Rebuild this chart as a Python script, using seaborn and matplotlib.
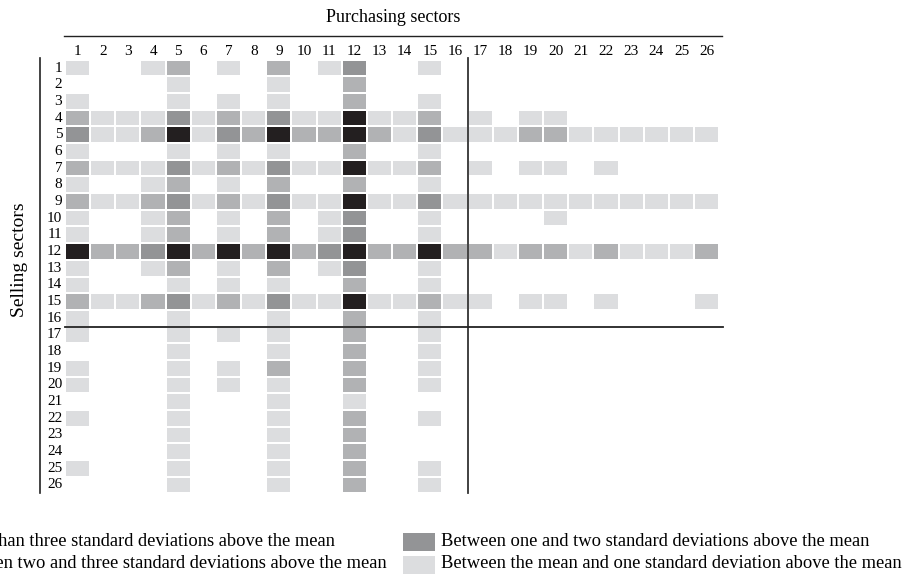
import numpy as np
import matplotlib
matplotlib.use("Agg")
import matplotlib.pyplot as plt
from matplotlib.colors import ListedColormap
from matplotlib.patches import Rectangle
from matplotlib.lines import Line2D
import seaborn as sns

# purchasing (columns) and selling (rows) sector numbers
purchasing = [str(i) for i in range(1, 27)]
selling = [str(i) for i in range(1, 27)]

# 0 = blank, 1 = mean..1 sd, 2 / 3 = higher bands, 4 = more than three sd
rows = [
    "10012010201300100000000000",
    "00001000100200000000000000",
    "10001010100200100000000000",
    "21113121311411201011000000",
    "31124132422421311122111111",
    "10001010100200100000000000",
    "21113121311411201011010000",
    "10012010200200100000000000",
    "21123121311411311111111111",
    "10012010201300100001000000",
    "10012010201300100000000000",
    "42234242423422422122121112",
    "10012010201300100000000000",
    "10001010100200100000000000",
    "21123121311411211011010001",
    "10001000100200100000000000",
    "10001010100200100000000000",
    "00001000100200100000000000",
    "10001010200200100000000000",
    "10001010100200100000000000",
    "00001000100100000000000000",
    "10001000100200100000000000",
    "00001000100200000000000000",
    "00001000100200000000000000",
    "10001000100200100000000000",
    "00001000100200100000000000",
]
levels = np.array([[int(c) for c in r] for r in rows])

shades = ["#ffffff", "#dcdddf", "#b1b2b4", "#939496", "#231f20"]
legend_left = ["More than three standard deviations above the mean",
               "Between two and three standard deviations above the mean"]
legend_right = ["Between one and two standard deviations above the mean",
                "Between the mean and one standard deviation above the mean"]

W, H = 903, 576
plt.rcParams["font.family"] = ["Liberation Serif", "DejaVu Serif"]

fig = plt.figure(figsize=(W / 100, H / 100), dpi=100)
ax = fig.add_axes([65 / W, 1 - 493.3 / H, 654.3 / W, 433.6 / H])

sns.heatmap(levels, ax=ax, cmap=ListedColormap(shades), vmin=-0.5, vmax=4.5,
            cbar=False, linewidths=1.2, linecolor="white",
            xticklabels=purchasing, yticklabels=selling)

ax.xaxis.tick_top()
ax.tick_params(axis="x", length=0, pad=1.5, labelsize=11)
ax.tick_params(axis="y", length=0, pad=2, labelsize=11, rotation=0)
for lab in ax.get_yticklabels():
    lab.set_horizontalalignment("right")

# block separators
ax.axvline(16, ymin=0, ymax=1.004, color="#333333", lw=1.3, clip_on=False)
ax.axhline(16, xmin=0, xmax=1.006, color="#222222", lw=1.3, clip_on=False)

fig.text(393 / W, 1 - 18 / H, "Purchasing sectors", ha="center", va="center", fontsize=13)
fig.add_artist(Line2D([64 / W, 722 / W], [1 - 36 / H, 1 - 36 / H], color="#222222", lw=1))
fig.add_artist(Line2D([40 / W, 40 / W], [1 - 58 / H, 1 - 493 / H], color="#222222", lw=1.2))
fig.text(20 / W, 1 - 260 / H, "Selling sectors", rotation=90, ha="center", va="center", fontsize=14)

# legend (left column is cut off by the page edge, as in the source)
ys = [542, 564.5]
for i in range(2):
    y = 1 - ys[i] / H
    fig.add_artist(Rectangle((-90 / W, y - 9 / H), 32 / W, 18 / H,
                             facecolor=shades[4 - i], edgecolor="none", transform=fig.transFigure))
    fig.text(-52 / W, y + 1 / H, legend_left[i], ha="left", va="center", fontsize=13.3)
    fig.add_artist(Rectangle((403 / W, y - 9 / H), 32 / W, 18 / H,
                             facecolor=shades[3 if i == 0 else 1], edgecolor="none",
                             transform=fig.transFigure))
    fig.text(441 / W, y + 1 / H, legend_right[i], ha="left", va="center", fontsize=13.3)

fig.savefig("out.png", dpi=100)
